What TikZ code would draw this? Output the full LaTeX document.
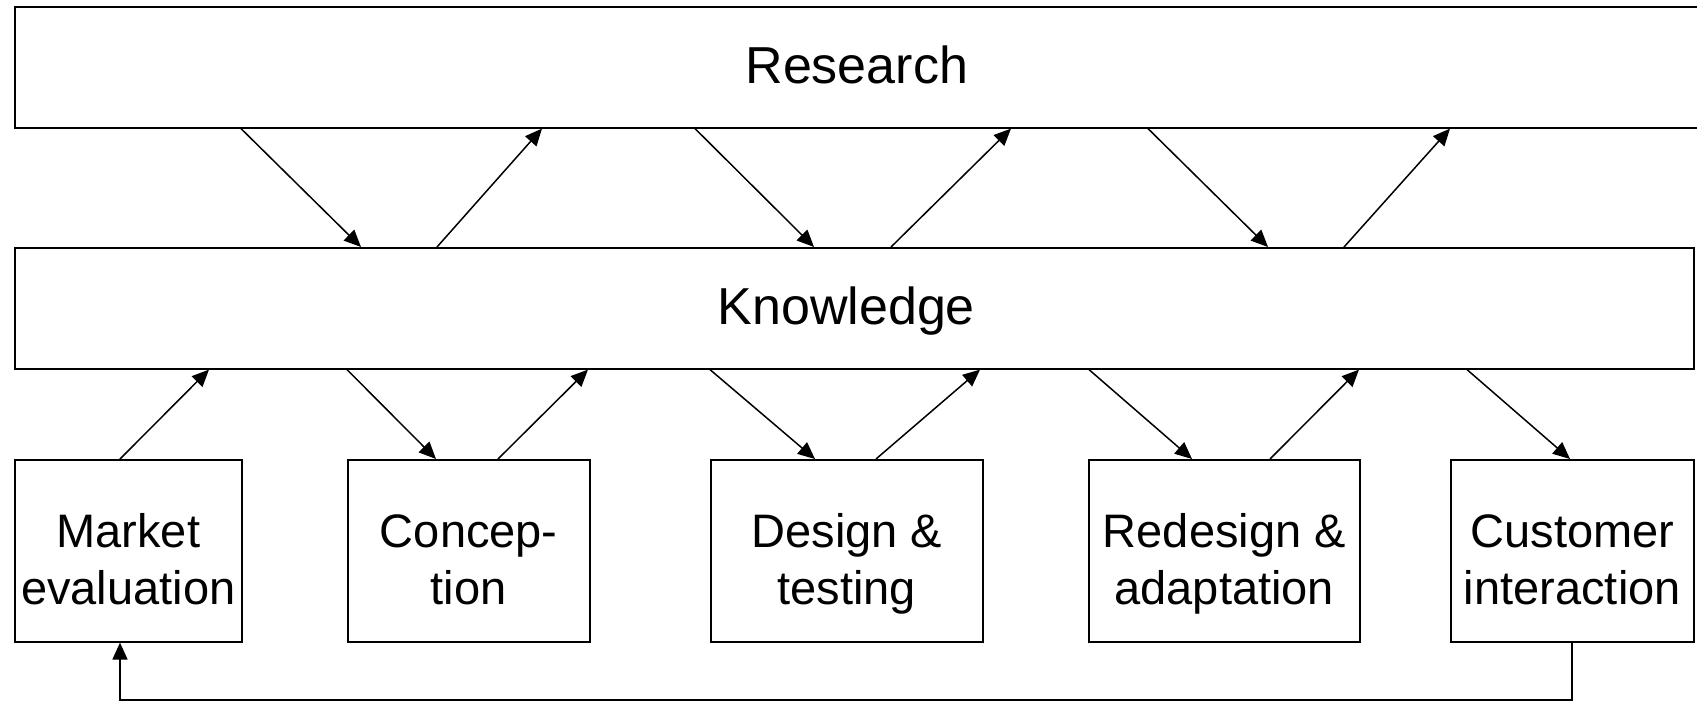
\documentclass[tikz,border=0pt]{standalone}
\usepackage{fontspec}
\setmainfont{Liberation Sans}
\usetikzlibrary{arrows.meta}

\tikzset{
  box/.style={draw=black, line width=1.6pt, fill=white, rectangle, inner sep=0pt, anchor=north west},
  widetext/.style={font=\fontsize{52}{60}\selectfont, text height=31.6pt, text depth=0pt},
  wide/.style={box, minimum height=121pt},
  stage/.style={box, minimum height=182pt, align=center,
                font=\fontsize{47}{57}\selectfont, text height=108pt, text depth=0pt},
  arr/.style={line width=1.5pt, -{Triangle[length=17pt, width=15pt]}},
  loopline/.style={line width=1.6pt, -{Triangle[length=17pt, width=15pt]}}
}

\begin{document}
\begin{tikzpicture}[x=1pt, y=-1pt]
  \useasboundingbox (0,0) rectangle (1697,702);

  % upper layers
  \node[wide, minimum width=1700pt,
        label={[widetext, anchor=center, xshift=-8pt]center:Research}] (R) at (14,6) {};
  \node[wide, minimum width=1679pt,
        label={[widetext, anchor=center, xshift=-8pt]center:Knowledge}] (K) at (14,247) {};

  % process stages
  \node[stage, minimum width=227pt] (M) at (14,459)   {Market\\evaluation};
  \node[stage, minimum width=242pt] (C) at (347,459)  {Concep-\\tion};
  \node[stage, minimum width=272pt] (D) at (710,459)  {Design \&\\testing};
  \node[stage, minimum width=271pt] (A) at (1088,459) {Redesign \&\\adaptation};
  \node[stage, minimum width=243pt] (U) at (1450,459) {Customer\\interaction};

  % research <-> knowledge
  \draw[arr] (R.south -| 241,0)  -- (K.north -| 361,0);
  \draw[arr] (K.north -| 437,0)  -- (R.south -| 542,0);
  \draw[arr] (R.south -| 695,0)  -- (K.north -| 814,0);
  \draw[arr] (K.north -| 891,0)  -- (R.south -| 1011,0);
  \draw[arr] (R.south -| 1148,0) -- (K.north -| 1268,0);
  \draw[arr] (K.north -| 1344,0) -- (R.south -| 1450,0);

  % knowledge <-> stages
  \draw[arr] (M.north -| 120,0)  -- (K.south -| 209,0);
  \draw[arr] (K.south -| 347,0)  -- (C.north -| 436,0);
  \draw[arr] (C.north -| 498,0)  -- (K.south -| 588,0);
  \draw[arr] (K.south -| 710,0)  -- (D.north -| 815,0);
  \draw[arr] (D.north -| 876,0)  -- (K.south -| 980,0);
  \draw[arr] (K.south -| 1089,0) -- (A.north -| 1192,0);
  \draw[arr] (A.north -| 1270,0) -- (K.south -| 1359,0);
  \draw[arr] (K.south -| 1467,0) -- (U.north -| 1570,0);

  % feedback loop
  \coordinate (lr) at (1572,700);
  \coordinate (ll) at (120,700);
  \draw[loopline] (U.south -| lr) -- (lr) -- (ll) -- (M.south -| ll);
\end{tikzpicture}
\end{document}
